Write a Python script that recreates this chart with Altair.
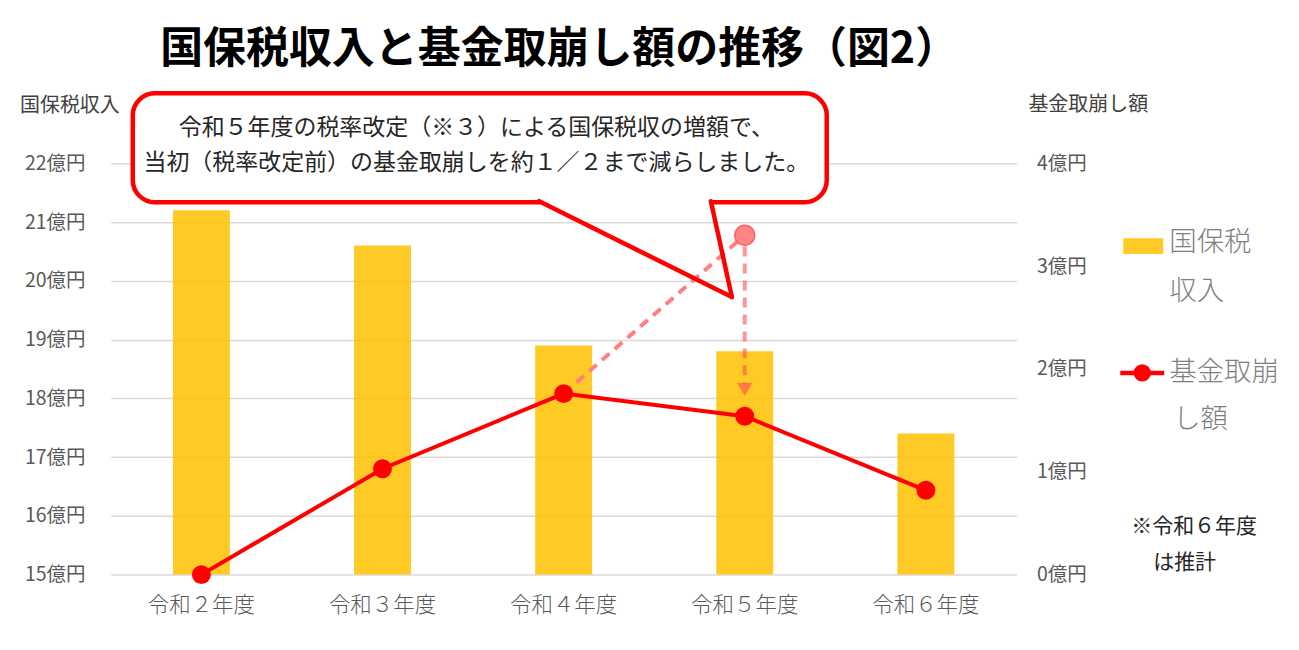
import altair as alt
import pandas as pd

FONT = "Noto Sans CJK JP"

categories = ["令和２年度", "令和３年度", "令和４年度", "令和５年度", "令和６年度"]
tax_revenue = [21.2, 20.6, 18.9, 18.8, 17.4]          # 億円 (left axis)
fund_draw = [0.0, 1.03, 1.76, 1.54, 0.82]              # 億円 (right axis)
plan_cats = ["令和４年度", "令和５年度"]
plan_vals = [1.76, 3.30]                               # before tax-rate revision
left_ticks = [15, 16, 17, 18, 19, 20, 21, 22]
right_ticks = [0, 1, 2, 3, 4]

df = pd.DataFrame({"cat": categories, "rev": tax_revenue, "fund": fund_draw})
plan_df = pd.DataFrame({"cat": plan_cats, "fund": plan_vals})
plan_pt = pd.DataFrame({"cat": [plan_cats[1]], "fund": [plan_vals[1]]})
arrow_df = pd.DataFrame({"cat": [plan_cats[1]], "fund": [3.19], "bot": [1.86]})
head_df = pd.DataFrame({"cat": [plan_cats[1]], "fund": [1.80]})

W, H = 907, 412
xenc = alt.X("cat:N", sort=categories,
             scale=alt.Scale(paddingInner=0, paddingOuter=0),
             axis=alt.Axis(title=None, labelAngle=0, domain=False, ticks=False,
                           labelFont=FONT, labelFontSize=21.5, labelColor="#595959",
                           labelFontWeight=300, labelPadding=20))

bars = alt.Chart(df).mark_bar(size=57, color="#FFC000", opacity=0.85).encode(
    x=xenc,
    y=alt.Y("rev:Q", scale=alt.Scale(domain=[15, 22], zero=False, nice=False),
            axis=alt.Axis(values=left_ticks, labelExpr="datum.value + '億円'",
                          title=None, grid=True, gridColor="#d9d9d9", gridWidth=1.5,
                          domain=False, ticks=False, labelPadding=26,
                          labelFont=FONT, labelFontSize=19.5, labelColor="#595959")),
    y2=alt.datum(15),
)

yR = alt.Scale(domain=[0, 4], nice=False)
right_axis = alt.Axis(values=right_ticks, labelExpr="datum.value + '億円'", orient="right",
                      title=None, grid=False, domain=False, ticks=False, labelPadding=20,
                      labelFont=FONT, labelFontSize=19.5, labelColor="#595959")

X = alt.X("cat:N", sort=categories)

line = alt.Chart(df).mark_line(color="#ff0000", strokeWidth=4).encode(
    x=X, y=alt.Y("fund:Q", scale=yR, axis=right_axis, title=None))

plan_line = alt.Chart(plan_df).mark_line(color="#ff8080", strokeWidth=4,
                                         strokeDash=[10, 7]).encode(
    x=X, y=alt.Y("fund:Q", scale=yR, title=None))

arrow_rule = alt.Chart(arrow_df).mark_rule(color="#ff5050", opacity=0.6, strokeWidth=4,
                                           strokeDash=[10, 7]).encode(
    x=X, y=alt.Y("fund:Q", scale=yR, title=None), y2="bot:Q")

arrow_head = alt.Chart(head_df).mark_point(shape="triangle-down", filled=True, size=230,
                                           color="#ff5050", opacity=0.65).encode(
    x=X, y=alt.Y("fund:Q", scale=yR, title=None))

pts = alt.Chart(df).mark_point(filled=True, size=360, color="#ff0000", opacity=1).encode(
    x=X, y=alt.Y("fund:Q", scale=yR, title=None))

plan_point = alt.Chart(plan_pt).mark_point(filled=True, size=400, fill="#ff8585",
                                           stroke="#ff6060", strokeWidth=1.5,
                                           opacity=1).encode(
    x=X, y=alt.Y("fund:Q", scale=yR, title=None))

right_group = alt.layer(line, plan_line, arrow_rule, arrow_head, pts, plan_point)

one = alt.Data(values=[{}])

def txt(s, x, y, size, color="#404040", align="left", weight="normal", baseline="middle"):
    return alt.Chart(one).mark_text(text=s, font=FONT, fontSize=size, color=color,
                                    align=align, baseline=baseline,
                                    fontWeight=weight).encode(
        x=alt.value(x), y=alt.value(y))

def seg(x1, y1, x2, y2, color="#ff0000", w=4.5, cap="butt"):
    return alt.Chart(one).mark_rule(color=color, strokeWidth=w, strokeCap=cap).encode(
        x=alt.value(x1), y=alt.value(y1), x2=alt.value(x2), y2=alt.value(y2))

# callout
box = alt.Chart(one).mark_rect(fill="white", stroke="#ff0000", strokeWidth=4.5,
                               cornerRadius=22).encode(
    x=alt.value(22), x2=alt.value(717), y=alt.value(-70), y2=alt.value(39))
gap = seg(431, 39, 599, 39, color="white", w=7)
tail1 = seg(429, 38, 622, 134, cap="round")
tail2 = seg(601, 38, 622, 134, cap="round")

annots = [
    box, gap, tail1, tail2,
    txt("令和５年度の税率改定（※３）による国保税収の増額で、", 366, -35, 23, "#262626", "center"),
    txt("当初（税率改定前）の基金取崩しを約１／２まで減らしました。", 366, 0, 23, "#262626", "center"),
    txt("国保税収入と基金取崩し額の推移（図2）", 449, -113, 43, "#000000", "center", "bold"),
    txt("国保税収入", -91, -57, 20),
    txt("基金取崩し額", 919, -58, 20),
]

legend = [
    alt.Chart(one).mark_rect(color="#FFC000", opacity=0.85).encode(
        x=alt.value(1014), x2=alt.value(1054), y=alt.value(75), y2=alt.value(91)),
    txt("国保税", 1060, 80, 27.5, "#7f7f7f", weight=300),
    txt("収入", 1060, 129, 27.5, "#7f7f7f", weight=300),
    seg(1011, 210, 1055, 210, w=4.5),
    alt.Chart(one).mark_point(filled=True, size=300, color="#ff0000", opacity=1).encode(
        x=alt.value(1033), y=alt.value(210)),
    txt("基金取崩", 1060, 210, 27.5, "#7f7f7f", weight=300),
    txt("し額", 1064, 257, 27.5, "#7f7f7f", weight=300),
    txt("※令和６年度", 1022, 364, 21, "#262626"),
    txt("は推計", 1044, 400, 21, "#262626"),
]

chart = alt.layer(bars, right_group, *annots, *legend).resolve_scale(
    y="independent"
).properties(
    width=W, height=H,
    padding={"left": 103, "top": 155, "right": 275, "bottom": 60},
    autosize=alt.AutoSizeParams(type="none"),
).configure_view(stroke=None)

chart.save("out.html", embed_options={"renderer": "svg", "actions": False})
